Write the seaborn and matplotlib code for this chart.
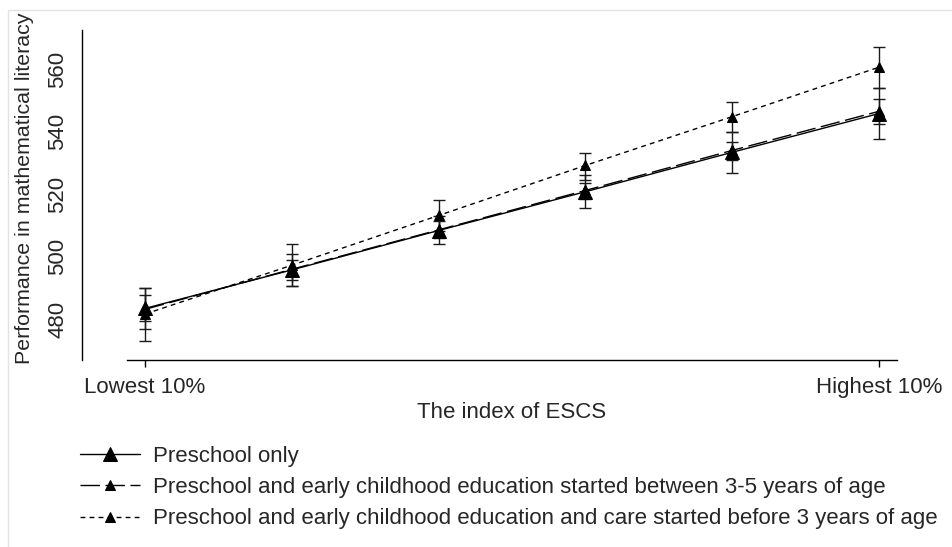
import matplotlib
matplotlib.use("Agg")
import matplotlib.pyplot as plt
from matplotlib.patches import Rectangle
import numpy as np
import pandas as pd
import seaborn as sns

# ESCS groups along the x axis (only the extremes are labelled)
positions = [0, 1, 2, 3, 4, 5]
tick_positions = [0, 5]
tick_labels = ["Lowest 10%", "Highest 10%"]
y_ticks = [480, 500, 520, 540, 560]

series_names = [
    "Preschool only",
    "Preschool and early childhood education started between 3-5 years of age",
    "Preschool and early childhood education and care started before 3 years of age",
]

# Mean mathematics score and confidence bounds for each group
preschool_mean = [483.5, 495.8, 508.4, 520.8, 533.4, 545.8]
preschool_low = [476.8, 490.7, 504.0, 515.6, 526.8, 537.5]
preschool_high = [490.1, 501.0, 513.0, 526.0, 540.0, 553.8]

ece35_mean = [483.2, 496.0, 508.6, 521.2, 534.0, 546.5]
ece35_low = [479.4, 492.5, 505.9, 518.6, 531.0, 542.6]
ece35_high = [487.7, 499.1, 511.4, 523.7, 536.7, 550.3]

ecec3_mean = [481.7, 497.3, 513.2, 529.2, 544.8, 560.6]
ecec3_low = [473.1, 490.8, 508.3, 524.7, 539.8, 554.0]
ecec3_high = [490.1, 504.0, 518.1, 533.2, 549.5, 567.0]

means = [preschool_mean, ece35_mean, ecec3_mean]
lows = [preschool_low, ece35_low, ecec3_low]
highs = [preschool_high, ece35_high, ecec3_high]

line_styles = ["-", (0, (14, 4)), (0, (3.5, 3))]
marker_sizes = [10, 7, 6.5]

FS = 16

sns.set_style("white")
plt.rcParams["font.family"] = ["Liberation Sans", "DejaVu Sans"]

W, H = 953, 547
fig = plt.figure(figsize=(W / 100, H / 100), dpi=100)
ax = fig.add_axes([127 / W, 1 - 360 / H, (897 - 127) / W, (360 - 30) / H])

# light outer frame of the graph region
fig.patches.append(Rectangle((8 / W, -0.1), 1.2, 1 - 10 / H + 0.1,
                             transform=fig.transFigure, fill=False,
                             edgecolor="#e2e2e2", linewidth=1.0))

for name, m, lo, hi, ls, ms in zip(series_names, means, lows, highs,
                                   line_styles, marker_sizes):
    df = pd.DataFrame({"pos": positions, "score": m})
    m_arr = np.array(m)
    yerr = [m_arr - np.array(lo), np.array(hi) - m_arr]
    ax.errorbar(positions, m, yerr=yerr, fmt="none", ecolor="#1a1a1a",
                elinewidth=1.0, capsize=4.5, capthick=1.0, zorder=2)
    sns.lineplot(data=df, x="pos", y="score", ax=ax, color="black",
                 linestyle=ls, linewidth=1.0, marker="^", markersize=ms,
                 markeredgecolor="black", markerfacecolor="black",
                 label=name, zorder=3)

ax.set_xlim(-0.123, 5.123)
ax.set_ylim(467, 572.5)
ax.set_xticks(tick_positions)
ax.set_xticklabels(tick_labels)
ax.set_yticks(y_ticks)
ax.set_yticklabels([str(v) for v in y_ticks])

for side in ["top", "right"]:
    ax.spines[side].set_visible(False)
ax.spines["left"].set_position(("outward", 32.4))
for side in ["left", "bottom"]:
    ax.spines[side].set_color("black")
    ax.spines[side].set_linewidth(1.0)

ax.tick_params(axis="x", length=5, width=1.0, color="black", pad=7,
               labelsize=FS, bottom=True)
ax.tick_params(axis="y", length=0, pad=10, labelsize=FS, left=True,
               labelrotation=90)
for lab in ax.get_yticklabels():
    lab.set_verticalalignment("center")
    lab.set_horizontalalignment("right")

ax.set_xlabel("The index of ESCS", fontsize=FS, labelpad=3)
ax.set_ylabel("")
fig.text(25 / W, 1 - 188 / H, "Performance in mathematical literacy",
         rotation=90, ha="center", va="center", fontsize=15.4)

handles, labels = ax.get_legend_handles_labels()
ax.get_legend().remove()
fig.legend(handles, labels, loc="upper left",
           bbox_to_anchor=(80 / W, 1 - 446 / H), frameon=False, fontsize=FS,
           handlelength=2.7, handletextpad=0.59, labelspacing=0.46,
           borderpad=0, borderaxespad=0, numpoints=1)

fig.savefig("out.png", dpi=100)
